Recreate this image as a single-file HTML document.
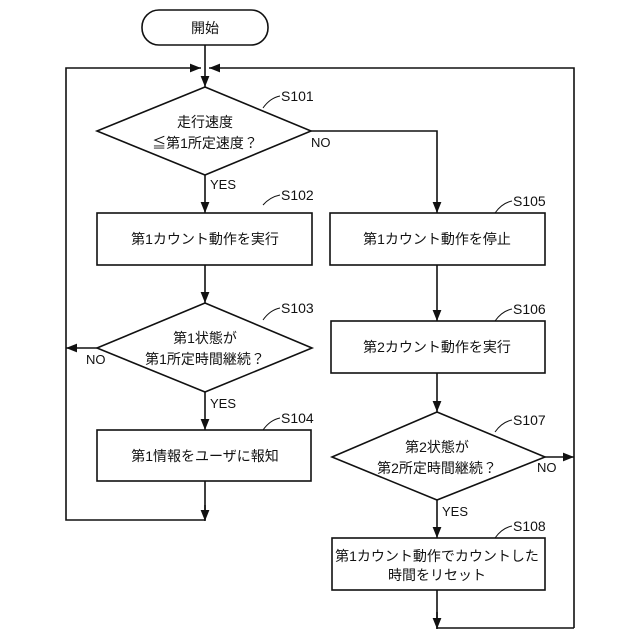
<!DOCTYPE html>
<html><head><meta charset="utf-8"><style>body{margin:0;background:#fff}svg{display:block}text{font-family:"Liberation Sans","Noto Sans CJK JP",sans-serif;fill:#111}</style></head><body>
<svg width="640" height="640" viewBox="0 0 640 640" xmlns="http://www.w3.org/2000/svg">
<defs><marker id="a" viewBox="0 0 10 10" refX="10" refY="5" markerWidth="7" markerHeight="7" orient="auto"><path d="M0,1 L10,5 L0,9 z" fill="#111"/></marker></defs>
<g stroke="#111" stroke-width="1.6" fill="none">
<rect x="142" y="10" width="126" height="35" rx="17"/>
<line x1="205" y1="45" x2="205" y2="87" marker-end="url(#a)"/>
<polyline points="66,348 66,68 201,68" marker-end="url(#a)"/>
<polyline points="574,628 574,68 209,68" marker-end="url(#a)"/>
<polygon points="205,87 311,131 205,175 97,131"/>
<line x1="205" y1="175" x2="205" y2="213" marker-end="url(#a)"/>
<polyline points="311,131 437,131 437,213" marker-end="url(#a)"/>
<rect x="97" y="213" width="215" height="52"/>
<rect x="330" y="213" width="215" height="52"/>
<line x1="205" y1="265" x2="205" y2="303" marker-end="url(#a)"/>
<line x1="437" y1="265" x2="437" y2="321" marker-end="url(#a)"/>
<polygon points="205,303 312,348 205,392 97,348"/>
<line x1="97" y1="348" x2="66" y2="348" marker-end="url(#a)"/>
<line x1="205" y1="392" x2="205" y2="430" marker-end="url(#a)"/>
<rect x="97" y="430" width="214" height="51"/>
<line x1="205" y1="481" x2="205" y2="520"/>
<polyline points="66,348 66,520 205,520"/>
<line x1="205" y1="505" x2="205" y2="521" marker-end="url(#a)"/>
<rect x="331" y="321" width="214" height="52"/>
<line x1="437" y1="373" x2="437" y2="412" marker-end="url(#a)"/>
<polygon points="437,412 545,457 437,500 332,457"/>
<line x1="545" y1="457" x2="574" y2="457" marker-end="url(#a)"/>
<line x1="437" y1="500" x2="437" y2="538" marker-end="url(#a)"/>
<rect x="332" y="538" width="213" height="52"/>
<polyline points="437,590 437,628 574,628"/>
<line x1="437" y1="612" x2="437" y2="629" marker-end="url(#a)"/>
<g stroke-width="1">
<path d="M263,108 Q270,98 280,96"/>
<path d="M263,205 Q270,197 280,195"/>
<path d="M263,320 Q270,310 280,308"/>
<path d="M263,430 Q270,420 280,418"/>
<path d="M495,213 Q502,203 512,201"/>
<path d="M495,321 Q502,311 512,309"/>
<path d="M495,432 Q502,422 512,420"/>
<path d="M495,538 Q502,528 512,526"/>
</g>
</g>
<g font-size="14" text-anchor="middle">
<text x="205" y="33">開始</text>
<text x="205" y="127">走行速度</text>
<text x="205" y="148">≦第1所定速度？</text>
<text x="205" y="244">第1カウント動作を実行</text>
<text x="437" y="244">第1カウント動作を停止</text>
<text x="437" y="352">第2カウント動作を実行</text>
<text x="205" y="343">第1状態が</text>
<text x="205" y="364">第1所定時間継続？</text>
<text x="205" y="461">第1情報をユーザに報知</text>
<text x="437" y="452">第2状態が</text>
<text x="437" y="473">第2所定時間継続？</text>
<text x="437" y="561">第1カウント動作でカウントした</text>
<text x="437" y="580">時間をリセット</text>
</g>
<g font-size="14">
<text x="281" y="101">S101</text>
<text x="281" y="200">S102</text>
<text x="281" y="313">S103</text>
<text x="281" y="423">S104</text>
<text x="513" y="206">S105</text>
<text x="513" y="314">S106</text>
<text x="513" y="425">S107</text>
<text x="513" y="531">S108</text>
<text x="311" y="147" font-size="13">NO</text>
<text x="86" y="364" font-size="13">NO</text>
<text x="537" y="472" font-size="13">NO</text>
<text x="210" y="189" font-size="13">YES</text>
<text x="210" y="408" font-size="13">YES</text>
<text x="442" y="516" font-size="13">YES</text>
</g>
</svg>
</body></html>
